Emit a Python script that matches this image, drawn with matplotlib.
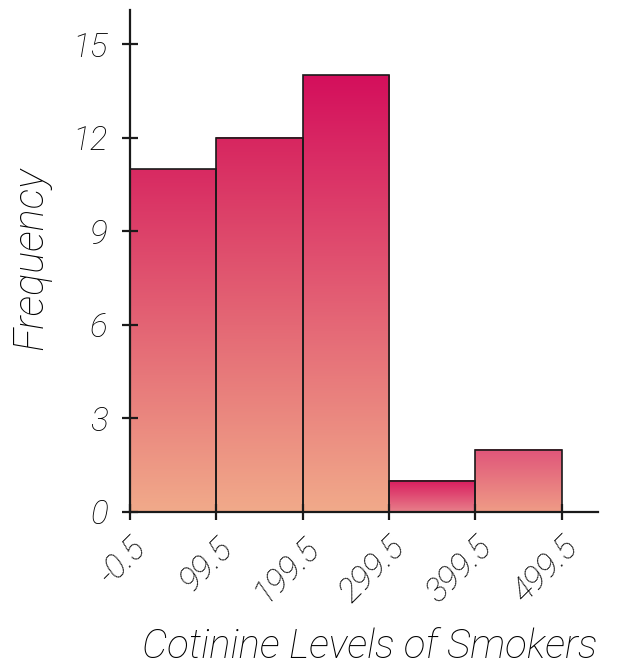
import matplotlib
matplotlib.use("Agg")
import matplotlib.pyplot as plt
import numpy as np
from matplotlib.colors import LinearSegmentedColormap

# Data
bin_edges = [-0.5, 99.5, 199.5, 299.5, 399.5, 499.5]
frequencies = [11, 12, 14, 1, 2]
tick_labels = ["-0.5", "99.5", "199.5", "299.5", "399.5", "499.5"]
y_ticks = [0, 3, 6, 9, 12, 15]
x_label = "Cotinine Levels of Smokers"
y_label = "Frequency"

# per-bar gradient colours (top, bottom)
bar_top_colors = ["#d82a62", "#d72660", "#d40f5c", "#d81b5e", "#e0557a"]
bar_bottom_colors = ["#f1aa8a", "#f1aa8a", "#f1aa8a", "#e8808a", "#ef9c86"]

FONT = dict(family="Roboto", style="italic", weight="light")

fig = plt.figure(figsize=(6.19, 6.70), dpi=100)
ax = fig.add_axes([130/619, 1-512/670, (598-130)/619, (512-10)/670])

for i, h in enumerate(frequencies):
    x0, x1 = bin_edges[i], bin_edges[i+1]
    cmap = LinearSegmentedColormap.from_list("g", [bar_bottom_colors[i], bar_top_colors[i]])
    grad = np.linspace(0, 1, 256).reshape(-1, 1)
    ax.imshow(grad, extent=(x0, x1, 0, h), origin="lower", cmap=cmap,
              aspect="auto", zorder=1, interpolation="bilinear")
    ax.bar(x0, h, width=x1 - x0, align="edge", facecolor="none",
           edgecolor="#1a1a1a", linewidth=1.2, zorder=2)

ax.set_xlim(-0.5, 541.5)
ax.set_ylim(0, 16.1)

for s in ["top", "right"]:
    ax.spines[s].set_visible(False)
for s in ["left", "bottom"]:
    ax.spines[s].set_linewidth(1.6)
    ax.spines[s].set_color("#1a1a1a")
    ax.spines[s].set_zorder(3)

ax.set_yticks(y_ticks)
ax.set_yticklabels([str(v) for v in y_ticks], fontsize=24, **FONT)
ax.set_xticks(bin_edges)
ax.set_xticklabels(tick_labels, fontsize=24, rotation=45, ha="right",
                   rotation_mode="anchor", **FONT)
ax.tick_params(axis="both", direction="inout", length=12, width=1.6,
               color="#1a1a1a", labelcolor="#000000")
ax.tick_params(axis="y", pad=10)
ax.tick_params(axis="x", pad=8)

fig.text(370/619, 1-647/670, x_label, ha="center", va="center", fontsize=29,
         color="#000000", **FONT)
fig.text(31/619, 1-258/670, y_label, ha="center", va="center", rotation=90,
         fontsize=30, color="#000000", **FONT)

fig.savefig("out.png", dpi=100)
